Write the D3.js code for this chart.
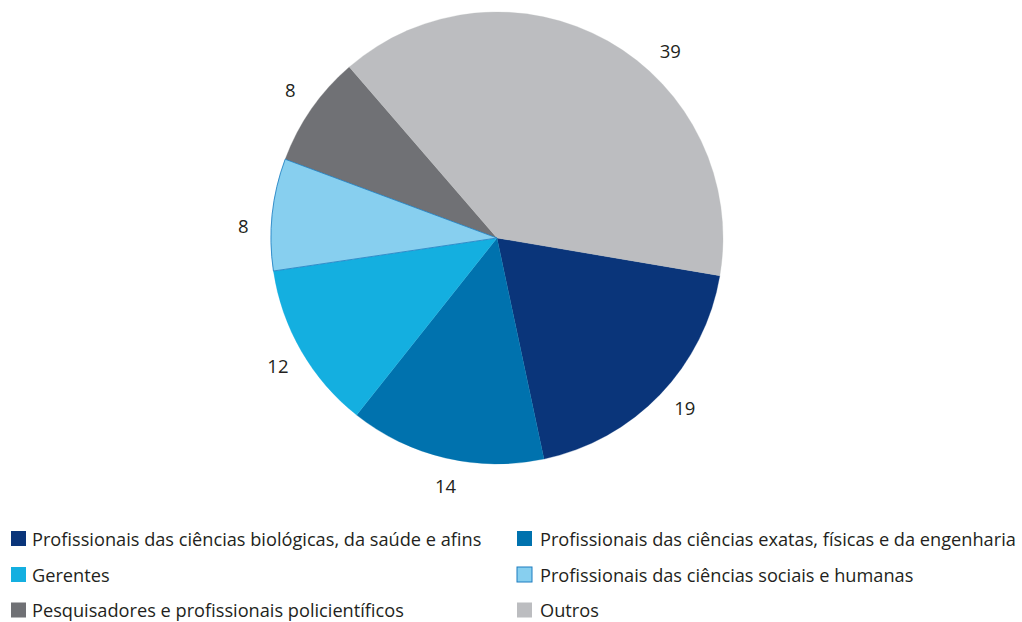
<!DOCTYPE html>
<html>
<head>
<meta charset="utf-8">
<script src="https://cdn.jsdelivr.net/npm/d3@7"></script>
<style>
  html, body { margin: 0; padding: 0; background: #fff; }
  svg { display: block; }
</style>
</head>
<body>
<svg id="chart" width="1022" height="622"></svg>
<script>
// ---- Data ----
const categories = [
  "Profissionais das ciências biológicas, da saúde e afins",
  "Profissionais das ciências exatas, físicas e da engenharia",
  "Gerentes",
  "Profissionais das ciências sociais e humanas",
  "Pesquisadores e profissionais policientíficos",
  "Outros"
];
const values = [19, 14, 12, 8, 8, 39];
const colors = ["#0a357a", "#0072ae", "#14afe0", "#87cfef", "#707175", "#bcbdc0"];

// ---- Layout ----
const svg = d3.select("#chart");
const cx = 497, cy = 238, R = 226;
const labelR = 254;
const fontFamily = "'Open Sans', 'Noto Sans', sans-serif";
const deg = Math.PI / 180;

const pie = d3.pie()
  .value(d => d.value)
  .sort(null)
  .startAngle(99.6 * deg)
  .endAngle((99.6 + 360) * deg);

const data = categories.map((c, i) => ({ name: c, value: values[i], color: colors[i] }));
const arcs = pie(data);
const arc = d3.arc().innerRadius(0).outerRadius(R);

const g = svg.append("g").attr("transform", `translate(${cx},${cy})`);

g.selectAll("path.slice")
  .data(arcs)
  .enter().append("path")
  .attr("class", "slice")
  .attr("d", arc)
  .attr("fill", d => d.data.color)
  .attr("stroke", d => d.data.color)
  .attr("stroke-width", 0.3);

// light-blue slice on top with its thin blue outline
g.append("path")
  .attr("d", arc(arcs[3]))
  .attr("fill", colors[3])
  .attr("stroke", "#1c7cc0")
  .attr("stroke-width", 0.8);

// value labels (placed near slice middle, a few nudged as in the original)
const labelAngleOverride = { 2: 239.6 * deg, 3: 272.5 * deg, 4: 305.5 * deg, 5: 43 * deg };
g.selectAll("text.val")
  .data(arcs)
  .enter().append("text")
  .attr("class", "val")
  .each(function(d, i) {
    const a = labelAngleOverride[i] !== undefined ? labelAngleOverride[i]
              : (d.startAngle + d.endAngle) / 2 - 1.5 * deg;
    d3.select(this)
      .attr("x", labelR * Math.sin(a))
      .attr("y", -labelR * Math.cos(a) - 1.5);
  })
  .attr("text-anchor", "middle")
  .attr("dominant-baseline", "central")
  .attr("font-family", fontFamily)
  .attr("font-size", 18.5)
  .attr("fill", "#231f20")
  .text(d => d.data.value);

// legend
const colX = [11, 517];
const textX = [32, 540];
const rowY = [531, 567, 602.5];
const sq = 15;
const legend = svg.append("g");
data.forEach((d, i) => {
  const c = i % 2, y = rowY[Math.floor(i / 2)];
  legend.append("rect")
    .attr("x", colX[c]).attr("y", y).attr("width", sq).attr("height", sq)
    .attr("fill", d.color)
    .attr("stroke", i === 3 ? "#1c7cc0" : "none")
    .attr("stroke-width", i === 3 ? 1 : 0);
  legend.append("text")
    .attr("x", textX[c])
    .attr("y", y + sq / 2)
    .attr("dominant-baseline", "central")
    .attr("font-family", fontFamily)
    .attr("font-size", 18.2)
    .attr("fill", "#231f20")
    .text(d.name);
});
</script>
</body>
</html>
